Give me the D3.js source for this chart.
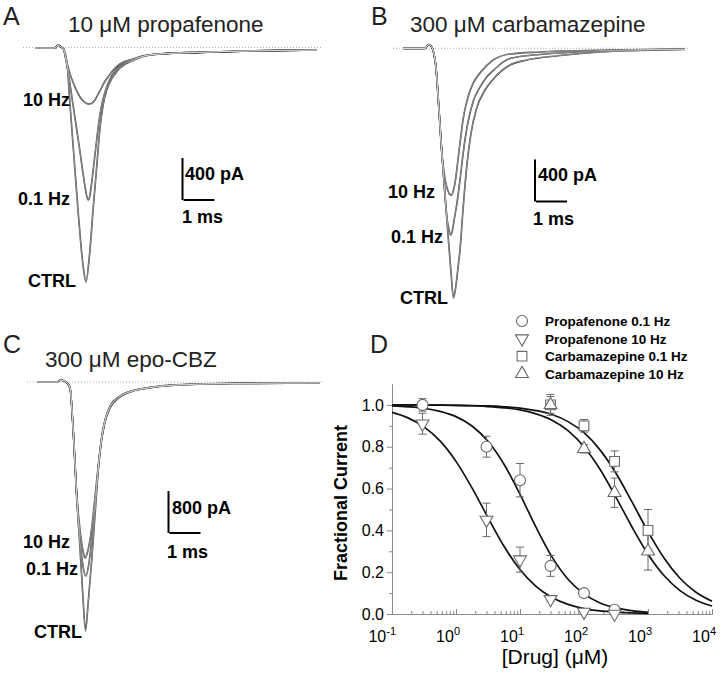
<!DOCTYPE html>
<html><head><meta charset="utf-8">
<script src="https://cdn.jsdelivr.net/npm/d3@7"></script>
<style>body{margin:0;background:#fff} svg text{font-family:"Liberation Sans",Arial,Helvetica,sans-serif}</style>
</head><body><svg id="c" width="725" height="677"></svg>
<script>
// ---------- DATA: panel D (concentration-response) ----------
const concProp = [0.3, 3, 10, 30, 100, 300];
const prop01 = [1.00, 0.80, 0.64, 0.23, 0.10, 0.02];
const prop01Err = [0.03, 0.05, 0.08, 0.05, 0.01, 0.01];
const prop10 = [0.91, 0.45, 0.26, 0.07, 0.01, 0.00];
const prop10Err = [0.05, 0.08, 0.06, 0.01, 0.01, 0.01];
const concCbz = [30, 100, 300, 1000];
const cbz01 = [1.00, 0.90, 0.73, 0.40];
const cbz01Err = [0.05, 0.03, 0.05, 0.10];
const cbz10 = [1.00, 0.79, 0.58, 0.30];
const cbz10Err = [0.04, 0.02, 0.07, 0.09];
// fitted curves at quarter-decade steps (log10 of concentration)
const fitLogProp = [-1,-0.75,-0.5,-0.25,0,0.25,0.5,0.75,1,1.25,1.5,1.75,2,2.25,2.5,2.75,3];
const fitProp01 = [0.995,0.991,0.984,0.969,0.944,0.899,0.826,0.716,0.572,0.415,0.273,0.166,0.096,0.053,0.029,0.016,0.008];
const fitProp10 = [0.964,0.938,0.895,0.828,0.730,0.603,0.461,0.324,0.213,0.132,0.079,0.046,0.026,0.015,0.009,0.005,0.003];
const fitLogCbz = [-1,-0.75,-0.5,-0.25,0,0.25,0.5,0.75,1,1.25,1.5,1.75,2,2.25,2.5,2.75,3,3.25,3.5,3.75,4];
const fitCbz01 = [1.000,1.000,0.999,0.999,0.998,0.997,0.995,0.991,0.985,0.973,0.954,0.920,0.867,0.785,0.673,0.536,0.394,0.268,0.171,0.104,0.061];
const fitCbz10 = [1.000,1.000,0.999,0.999,0.998,0.996,0.992,0.986,0.976,0.957,0.927,0.877,0.800,0.692,0.558,0.416,0.286,0.184,0.112,0.066,0.038];
const xTickExps = [-1, 0, 1, 2, 3, 4];
const yTicks = [0, 0.2, 0.4, 0.6, 0.8, 1.0];
const yMinorTicks = [0.1, 0.3, 0.5, 0.7, 0.9];
const legendNames = ["Propafenone 0.1 Hz", "Propafenone 10 Hz", "Carbamazepine 0.1 Hz", "Carbamazepine 10 Hz"];

// ---------- DATA: current traces, [time ms, current pA] ----------
const preA = [[0,-5],[0.65,-5],[0.74,24],[0.84,5],[0.92,-14]];
const ctrlA = preA.concat([[1.03,-138],[1.13,-548],[1.24,-976],[1.40,-1595],[1.56,-2100],[1.645,-2233],[1.752,-1995],[1.881,-1519],[1.99,-1138],[2.097,-767],[2.203,-538],[2.306,-414],[2.419,-329],[2.581,-252],[2.742,-195],[3.161,-124],[3.548,-81],[4.032,-62],[5.323,-46],[6.935,-33],[9.097,-24]]);
const hz01A = preA.concat([[1.0,-119],[1.074,-243],[1.194,-481],[1.323,-738],[1.452,-995],[1.581,-1262],[1.668,-1414],[1.719,-1452],[1.774,-1405],[1.829,-1290],[1.903,-1100],[1.99,-881],[2.065,-700],[2.152,-548],[2.258,-424],[2.419,-300],[2.581,-224],[2.742,-176],[3.161,-119],[3.548,-79],[4.032,-62],[5.323,-46],[6.935,-33],[9.097,-24]]);
const hz10A = preA.concat([[0.968,-71],[1.032,-148],[1.129,-252],[1.235,-338],[1.345,-414],[1.452,-471],[1.558,-510],[1.668,-533],[1.752,-538],[1.839,-529],[1.919,-505],[1.99,-471],[2.097,-414],[2.203,-348],[2.355,-281],[2.526,-214],[2.742,-157],[3.161,-110],[3.548,-77],[4.032,-62],[5.323,-46],[6.935,-33],[9.097,-24]]);

const preB = [[0,-2],[0.71,-2],[0.816,36],[0.903,22],[0.968,-16],[1.065,-188],[1.161,-588],[1.258,-1016]];
const ctrlB = preB.concat([[1.355,-1397],[1.452,-1778],[1.548,-2131],[1.629,-2378],[1.71,-2254],[1.774,-2092],[1.839,-1921],[1.935,-1540],[2.055,-1130],[2.194,-807],[2.377,-569],[2.645,-397],[2.913,-292],[3.452,-159],[3.99,-111],[5.065,-69],[6.355,-35],[7.645,-21],[9.097,-11]]);
const hz01B = preB.concat([[1.355,-1397],[1.419,-1616],[1.484,-1731],[1.539,-1778],[1.597,-1731],[1.661,-1616],[1.732,-1492],[1.839,-1254],[1.945,-988],[2.097,-702],[2.268,-502],[2.484,-369],[2.7,-273],[2.968,-197],[3.235,-130],[3.452,-97],[4.419,-59],[5.065,-45],[6.677,-21],[9.097,-9]]);
const hz10B = preB.concat([[1.323,-1178],[1.387,-1292],[1.452,-1359],[1.516,-1392],[1.571,-1397],[1.629,-1350],[1.694,-1254],[1.742,-1140],[1.839,-902],[1.945,-664],[2.097,-464],[2.268,-330],[2.484,-235],[2.913,-111],[3.452,-54],[4.419,-35],[5.065,-26],[6.677,-16],[9.097,-7]]);

const preC = [[0,0],[0.645,0],[0.758,38],[0.871,19],[0.968,-19],[1.065,-114],[1.171,-953]];
const ctrlC = preC.concat([[1.281,-2210],[1.387,-3162],[1.484,-4115],[1.565,-4743],[1.645,-4248],[1.765,-3391],[1.871,-2534],[1.977,-1676],[2.081,-1105],[2.194,-762],[2.355,-495],[2.677,-286],[3.097,-171],[3.581,-114],[4.29,-67],[6.323,-29],[9.129,-19]]);
const hz01C = preC.concat([[1.281,-2172],[1.387,-3010],[1.484,-3505],[1.581,-3696],[1.661,-3505],[1.765,-3010],[1.871,-2343],[1.977,-1638],[2.081,-1105],[2.194,-743],[2.355,-476],[2.677,-276],[3.097,-171],[3.581,-114],[4.29,-67],[6.323,-29],[9.129,-19]]);
const hz10C = preC.concat([[1.281,-2115],[1.387,-2819],[1.484,-3219],[1.548,-3353],[1.629,-3239],[1.765,-2781],[1.871,-2191],[1.977,-1581],[2.081,-1067],[2.194,-724],[2.355,-457],[2.677,-267],[3.097,-162],[3.581,-105],[4.29,-57],[6.323,-25],[9.129,-15]]);

const traceLabels = ["10 Hz", "0.1 Hz", "CTRL"];

// ---------- DRAW ----------
const svg = d3.select("#c");
const FONT = '"Liberation Sans",Arial,Helvetica,sans-serif';

const panels = [
  {letter:"A", lx:3, ly:25, title:"10 \u03bcM propafenone", tx:68, ty:32,
   x0:35, y0:47.5, pxPerMs:31, barPA:400, barPx:42, bx:182.5, by:200, dots:[23,322],
   traces:[hz10A, hz01A, ctrlA], labelPos:[[70,106],[70,205],[76,287]],
   barLbl:"400 pA", blx:185, bly:180, msx:182, msy:223},
  {letter:"B", lx:371, ly:25, title:"300 \u03bcM carbamazepine", tx:410, ty:32,
   x0:403, y0:48.3, pxPerMs:31, barPA:400, barPx:42, bx:535, by:201.5, dots:[393,688],
   traces:[hz10B, hz01B, ctrlB], labelPos:[[435,198],[443,243],[448,304]],
   barLbl:"400 pA", blx:538, bly:181, msx:533, msy:225},
  {letter:"C", lx:3, ly:353, title:"300 \u03bcM epo-CBZ", tx:45, ty:367,
   x0:37, y0:382, pxPerMs:31, barPA:800, barPx:42, bx:168.5, by:533, dots:[27,323],
   traces:[hz10C, hz01C, ctrlC], labelPos:[[70,548],[78,575],[82,638]],
   barLbl:"800 pA", blx:172, bly:514, msx:167, msy:558}
];

panels.forEach(p => {
  const g = svg.append("g");
  const x = d3.scaleLinear().domain([0, 1]).range([p.x0, p.x0 + p.pxPerMs]);
  const y = d3.scaleLinear().domain([0, p.barPA]).range([p.y0, p.y0 - p.barPx]);
  g.append("line").attr("x1", p.dots[0]).attr("x2", p.dots[1]).attr("y1", y(0)).attr("y2", y(0))
    .attr("stroke", "#9a9a9a").attr("stroke-width", 0.8).attr("stroke-dasharray", "1,2");
  const line = d3.line().x(d => x(d[0])).y(d => y(d[1])).curve(d3.curveMonotoneX);
  p.traces.forEach(t => g.append("path").attr("d", line(t)).attr("fill", "none")
    .attr("stroke", "#333").attr("stroke-width", 1.6));
  p.traces.forEach(t => g.append("path").attr("d", line(t)).attr("fill", "none")
    .attr("stroke", "#ffffff").attr("stroke-width", 0.45));
  // scale bar
  const barH = y(0) - y(p.barPA);
  g.append("line").attr("x1", p.bx).attr("x2", p.bx).attr("y1", p.by - barH).attr("y2", p.by)
    .attr("stroke", "#000").attr("stroke-width", 2);
  g.append("line").attr("x1", p.bx + 1).attr("x2", p.bx + 1 + (x(1) - x(0))).attr("y1", p.by).attr("y2", p.by)
    .attr("stroke", "#000").attr("stroke-width", 2);
  g.append("text").attr("x", p.blx).attr("y", p.bly).text(p.barLbl)
    .attr("font-size", 18).attr("font-weight", "bold");
  g.append("text").attr("x", p.msx).attr("y", p.msy).text("1 ms")
    .attr("font-size", 18).attr("font-weight", "bold");
  traceLabels.forEach((l, i) => g.append("text").attr("x", p.labelPos[i][0]).attr("y", p.labelPos[i][1])
    .attr("text-anchor", "end").attr("font-size", 18).attr("font-weight", "bold").text(l));
  g.append("text").attr("x", p.tx).attr("y", p.ty).text(p.title).attr("font-size", 22.5).attr("fill", "#222");
  g.append("text").attr("x", p.lx).attr("y", p.ly).text(p.letter).attr("font-size", 25).attr("fill", "#222");
});

// ---------- Panel D ----------
svg.append("text").attr("x", 370).attr("y", 353).text("D").attr("font-size", 25).attr("fill", "#222");
const xD = d3.scaleLog().domain([0.1, 10000]).range([392, 712]);
const yD = d3.scaleLinear().domain([0, 1.1]).range([614, 384]);
const gD = svg.append("g");

const yAx = gD.append("g").attr("transform", "translate(392,0)")
  .call(d3.axisLeft(yD).tickValues(yTicks).tickSize(5).tickSizeOuter(0).tickPadding(3).tickFormat(d3.format(".1f")));
gD.append("g").attr("transform", "translate(392,0)")
  .call(d3.axisLeft(yD).tickValues(yMinorTicks).tickSize(3).tickSizeOuter(0).tickFormat(""));
const minorX = [];
for (let e = -1; e < 4; e++) for (let m = 2; m <= 9; m++) minorX.push(m * Math.pow(10, e));
gD.append("g").attr("transform", "translate(0,614)")
  .call(d3.axisBottom(xD).tickValues(xTickExps.map(e => Math.pow(10, e))).tickSize(-5).tickSizeOuter(0).tickFormat(""));
gD.append("g").attr("transform", "translate(0,614)")
  .call(d3.axisBottom(xD).tickValues(minorX).tickSize(-3).tickSizeOuter(0).tickFormat(""));
gD.selectAll(".domain, .tick line").attr("stroke", "#8a8a8a");
yAx.selectAll("text").attr("font-size", 16).attr("fill", "#000").attr("font-family", FONT);

xTickExps.forEach(e => {
  const t = gD.append("text").attr("x", xD(Math.pow(10, e)) + 4).attr("y", 642)
    .attr("text-anchor", "end").attr("font-size", 16);
  t.append("tspan").text("10");
  t.append("tspan").attr("dy", -7).attr("font-size", 11).text(e < 0 ? "-" + Math.abs(e) : String(e));
});

gD.append("text").attr("transform", "translate(347,503) rotate(-90)").attr("text-anchor", "middle")
  .attr("font-size", 18).attr("font-weight", "bold").text("Fractional Current");
gD.append("text").attr("x", 555).attr("y", 664).attr("text-anchor", "middle").attr("font-size", 21)
  .text("[Drug] (\u03bcM)");

// fitted curves
const fitLine = d3.line().x(d => xD(Math.pow(10, d[0]))).y(d => yD(d[1])).curve(d3.curveMonotoneX);
[[fitLogProp, fitProp01], [fitLogProp, fitProp10], [fitLogCbz, fitCbz01], [fitLogCbz, fitCbz10]].forEach(([xs, ys]) => {
  gD.append("path").attr("d", fitLine(xs.map((v, i) => [v, ys[i]]))).attr("fill", "none")
    .attr("stroke", "#111").attr("stroke-width", 1.7);
});

const series = [
  {conc: concProp, val: prop01, err: prop01Err, sym: d3.symbolCircle, size: 95, rot: 0},
  {conc: concProp, val: prop10, err: prop10Err, sym: d3.symbolTriangle, size: 72, rot: 180},
  {conc: concCbz, val: cbz01, err: cbz01Err, sym: d3.symbolSquare, size: 95, rot: 0},
  {conc: concCbz, val: cbz10, err: cbz10Err, sym: d3.symbolTriangle, size: 72, rot: 0}
];
const MK = "#6a6a6a";
series.forEach(s => {
  s.conc.forEach((c, i) => {
    const cx = xD(c);
    const y1 = yD(s.val[i] + s.err[i]), y2 = yD(Math.max(0, s.val[i] - s.err[i]));
    gD.append("line").attr("x1", cx).attr("x2", cx).attr("y1", y1).attr("y2", y2).attr("stroke", MK).attr("stroke-width", 1);
    [y1, y2].forEach(yy => gD.append("line").attr("x1", cx - 4).attr("x2", cx + 4).attr("y1", yy).attr("y2", yy)
      .attr("stroke", MK).attr("stroke-width", 1));
  });
});
series.forEach(s => {
  s.conc.forEach((c, i) => {
    gD.append("path").attr("d", d3.symbol().type(s.sym).size(s.size)())
      .attr("transform", `translate(${xD(c)},${yD(s.val[i])}) rotate(${s.rot})`)
      .attr("fill", "#fff").attr("stroke", MK).attr("stroke-width", 1.1);
  });
});

// legend
legendNames.forEach((n, i) => {
  const ly = 321 + i * 17.6;
  const s = series[i];
  gD.append("path").attr("d", d3.symbol().type(s.sym).size(s.size)())
    .attr("transform", `translate(522,${ly}) rotate(${s.rot})`)
    .attr("fill", "#fff").attr("stroke", MK).attr("stroke-width", 1.1);
  gD.append("text").attr("x", 545).attr("y", ly + 5).attr("font-size", 13.5).attr("font-weight", "bold").text(n);
});
</script></body></html>
